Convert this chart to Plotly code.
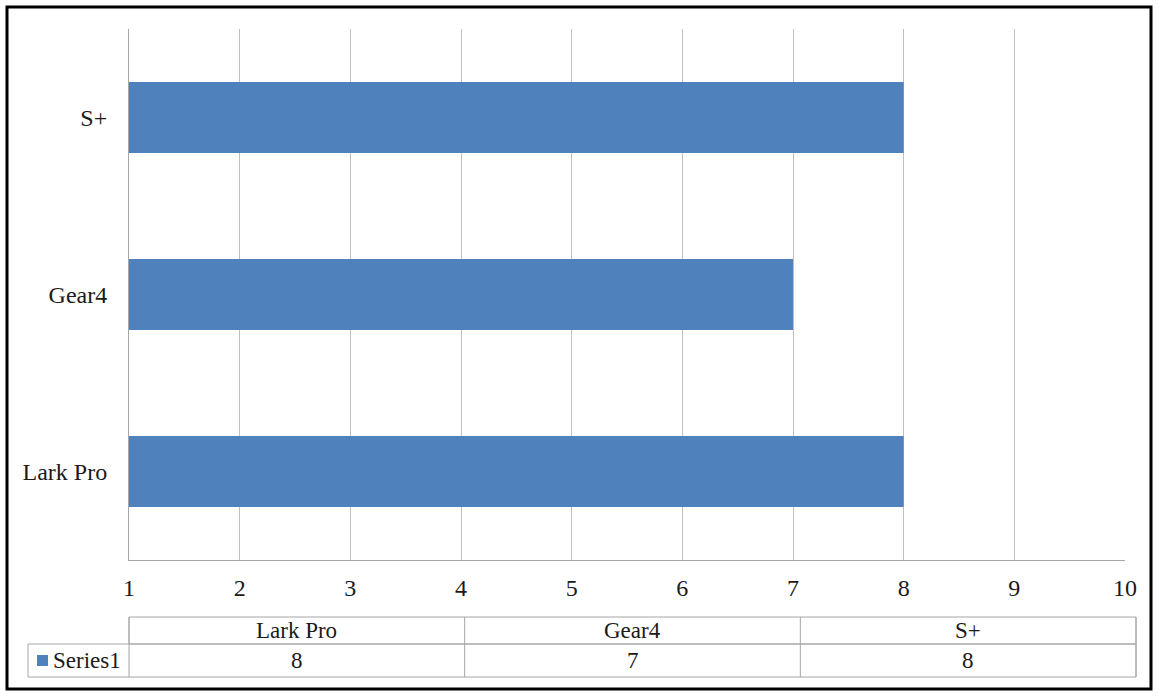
import plotly.graph_objects as go

# Chart data
categories = ["Lark Pro", "Gear4", "S+"]
series_name = "Series1"
values = [8, 7, 8]
x_ticks = [1, 2, 3, 4, 5, 6, 7, 8, 9, 10]

W, H = 1159, 696
L, R, T, B = 129, 1125, 29, 560  # plot area in pixels
BAR_COLOR = "#4f81bd"
GRID = "#bfbfbf"
TEXT = "#1a1a1a"
FONT = "Liberation Serif, Times New Roman, serif"


def px_x(p):
    return (p - L) / (R - L)


def px_y(p):
    return (B - p) / (B - T)


fig = go.Figure()
fig.add_trace(go.Bar(
    y=categories,
    x=values,
    orientation="h",
    marker=dict(color=BAR_COLOR, line=dict(width=0)),
    width=0.4,
    name=series_name,
    showlegend=False,
))

shapes = []
annotations = []

# outer frame
shapes.append(dict(type="rect", xref="paper", yref="paper",
                   x0=px_x(7), x1=px_x(1151), y0=px_y(689), y1=px_y(7),
                   line=dict(color="black", width=3), fillcolor="rgba(0,0,0,0)", layer="below"))

# data table below the axis
tbl_left, tbl_x0, tbl_x1 = 28, 129, 1136
row_top, row_mid, row_bot = 617, 644, 677
col_w = (tbl_x1 - tbl_x0) / len(categories)
line = dict(color="#a6a6a6", width=1)
# header row
shapes.append(dict(type="rect", xref="paper", yref="paper",
                   x0=px_x(tbl_x0), x1=px_x(tbl_x1), y0=px_y(row_mid), y1=px_y(row_top), line=line))
# series row
shapes.append(dict(type="rect", xref="paper", yref="paper",
                   x0=px_x(tbl_left), x1=px_x(tbl_x1), y0=px_y(row_bot), y1=px_y(row_mid), line=line))
# column dividers
for i in range(len(categories) + 1):
    xc = tbl_x0 + i * col_w
    shapes.append(dict(type="line", xref="paper", yref="paper",
                       x0=px_x(xc), x1=px_x(xc), y0=px_y(row_bot), y1=px_y(row_top), line=line))

for i, (cat, val) in enumerate(zip(categories, values)):
    cx = tbl_x0 + (i + 0.5) * col_w
    annotations.append(dict(xref="paper", yref="paper", x=px_x(cx), y=px_y((row_top + row_mid) / 2),
                            text=cat, showarrow=False, xanchor="center", yanchor="middle",
                            font=dict(family=FONT, size=23, color=TEXT)))
    annotations.append(dict(xref="paper", yref="paper", x=px_x(cx), y=px_y((row_mid + row_bot) / 2),
                            text=str(val), showarrow=False, xanchor="center", yanchor="middle",
                            font=dict(family=FONT, size=23, color=TEXT)))

# legend key in the series row
shapes.append(dict(type="rect", xref="paper", yref="paper",
                   x0=px_x(37), x1=px_x(48), y0=px_y(666), y1=px_y(655),
                   line=dict(width=0), fillcolor=BAR_COLOR))
annotations.append(dict(xref="paper", yref="paper", x=px_x(51), y=px_y(660),
                        text=series_name, showarrow=False, xanchor="left", yanchor="middle",
                        font=dict(family=FONT, size=23, color=TEXT)))

fig.update_layout(
    width=W, height=H,
    margin=dict(l=L, r=W - R, t=T, b=H - B, pad=0),
    paper_bgcolor="white", plot_bgcolor="white",
    xaxis=dict(range=[1, 10], tickvals=x_ticks, showgrid=True, gridcolor=GRID, gridwidth=1,
               showline=True, linecolor="#a6a6a6", linewidth=1, zeroline=False,
               ticks="", ticklabelstandoff=6,
               tickfont=dict(family=FONT, size=24, color=TEXT)),
    yaxis=dict(categoryorder="array", categoryarray=categories, showgrid=False,
               showline=True, linecolor="#a6a6a6", linewidth=1, zeroline=False,
               ticks="", ticklabelstandoff=16,
               tickfont=dict(family=FONT, size=24, color=TEXT)),
    shapes=shapes,
    annotations=annotations,
    showlegend=False,
)

fig.write_html("out.html")
